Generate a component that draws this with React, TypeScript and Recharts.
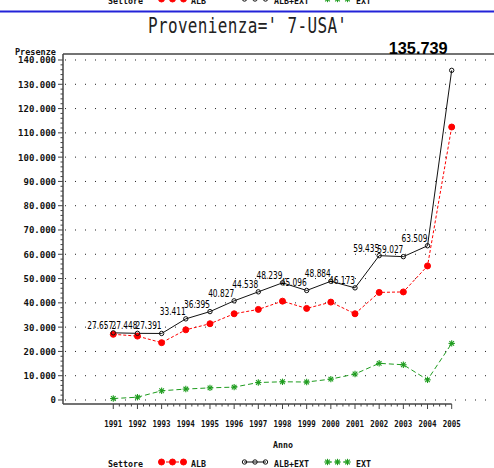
import React from 'react';
import { LineChart, Line, XAxis, YAxis, ReferenceLine, LabelList } from 'recharts';

const anni = [1991, 1992, 1993, 1994, 1995, 1996, 1997, 1998, 1999, 2000, 2001, 2002, 2003, 2004, 2005];
const alb = [27050, 26300, 23600, 28900, 31400, 35500, 37300, 40700, 37700, 40300, 35500, 44300, 44500, 55200, 112400];
const totale = [27657, 27448, 27391, 33411, 36395, 40827, 44538, 48239, 45096, 48884, 46173, 59435, 59027, 63509, 135739];
const ext = [600, 1150, 3800, 4500, 5000, 5300, 7200, 7500, 7400, 8600, 10700, 15100, 14500, 8300, 23300];
const yMajor = [0, 10000, 20000, 30000, 40000, 50000, 60000, 70000, 80000, 90000, 100000, 110000, 120000, 130000, 140000];

const data = anni.map((anno, i) => ({ anno, alb: alb[i], tot: totale[i], ext: ext[i] }));

// minor ticks: 4 per 10.000 on y, 3 per year on x
const yTicks: number[] = [];
for (let v = 0; v <= 140000; v += 2000) yTicks.push(v);
const xTicks: number[] = [];
for (let a = anni[0]; a <= anni[anni.length - 1]; a += 0.25) xTicks.push(a);

const X_DOMAIN: [number, number] = [1988.92, 2006.75];
const Y_DOMAIN: [number, number] = [-1650, 142470];

const RED = '#ff0000';
const GREEN = '#1e9c1e';
const AXIS = '#444';
const MONO = "'DejaVu Sans Mono', monospace";
const NARROW = "'Liberation Sans Narrow', 'DejaVu Sans Condensed', sans-serif";

const fmt = (v: number) => String(v).replace(/\B(?=(\d{3})+(?!\d))/g, '.');

const YTick = (props: any) => {
    const { x, y, payload } = props;
    const major = payload.value % 10000 === 0;
    return (
        <g>
            <line x1={x} x2={x - (major ? 5 : 2.5)} y1={y} y2={y} stroke={AXIS} />
            {major && (
                <text x={x - 7} y={y + 3.5} textAnchor="end" fontFamily={MONO} fontWeight="bold" fontSize={9} fill="#111">
                    {fmt(payload.value)}
                </text>
            )}
        </g>
    );
};

const XTick = (props: any) => {
    const { x, y, payload } = props;
    const major = Number.isInteger(payload.value);
    return (
        <g>
            <line x1={x} x2={x} y1={y} y2={y + (major ? 5 : 2.5)} stroke={AXIS} />
            {major && (
                <text x={x} y={y + 23} textAnchor="middle" fontFamily={MONO} fontWeight="bold" fontSize={9} textLength={18} lengthAdjust="spacingAndGlyphs" fill="#111">
                    {payload.value}
                </text>
            )}
        </g>
    );
};

const RedDot = (props: any) => <circle cx={props.cx} cy={props.cy} r={3} fill={RED} stroke={RED} />;
const OpenDot = (props: any) => <circle cx={props.cx} cy={props.cy} r={2.2} fill="none" stroke="#111" strokeWidth={1} />;
const StarDot = (props: any) => {
    const { cx, cy } = props;
    const r = 3.2;
    const d = r * 0.72;
    return (
        <g stroke={GREEN} strokeWidth={1.1}>
            <line x1={cx - r} x2={cx + r} y1={cy} y2={cy} />
            <line x1={cx} x2={cx} y1={cy - r} y2={cy + r} />
            <line x1={cx - d} x2={cx + d} y1={cy - d} y2={cy + d} />
            <line x1={cx - d} x2={cx + d} y1={cy + d} y2={cy - d} />
        </g>
    );
};

const TotLabel = (props: any) => {
    const { x, y, value, index } = props;
    if (index === totale.length - 1) {
        return (
            <text x={x - 4} y={y - 16} textAnchor="end" fontFamily="'Liberation Sans', Arial, sans-serif" fontWeight="bold" fontSize={17} textLength={59} lengthAdjust="spacingAndGlyphs" fill="#000">
                {fmt(value)}
            </text>
        );
    }
    return (
        <text x={x} y={y - 4} textAnchor="end" fontFamily={NARROW} fontSize={10} textLength={26} lengthAdjust="spacingAndGlyphs" fill="#000">
            {fmt(value)}
        </text>
    );
};

const LegendRow = ({ dy }: { dy: number }) => (
    <g transform={`translate(0, ${dy})`} fontFamily={MONO} fontWeight="bold" fontSize={9} fill="#111">
        <text x={108} y={466.5} textLength={35} lengthAdjust="spacingAndGlyphs">Settore</text>
        <line x1={161} x2={184} y1={462} y2={462} stroke={RED} strokeDasharray="3 2" />
        {[161.5, 172.5, 183.5].map((cx) => <RedDot key={cx} cx={cx} cy={462} />)}
        <text x={191} y={466.5} textLength={15} lengthAdjust="spacingAndGlyphs">ALB</text>
        <line x1={244} x2={266} y1={462} y2={462} stroke="#111" />
        {[244.5, 255, 265.5].map((cx) => <OpenDot key={cx} cx={cx} cy={462} />)}
        <text x={274} y={466.5} textLength={35} lengthAdjust="spacingAndGlyphs">ALB+EXT</text>
        <line x1={327} x2={348} y1={462} y2={462} stroke={GREEN} strokeDasharray="5 3" />
        {[327.5, 337.5, 347.5].map((cx) => <StarDot key={cx} cx={cx} cy={462} />)}
        <text x={356} y={466.5} textLength={15} lengthAdjust="spacingAndGlyphs">EXT</text>
    </g>
);

const App: React.FC = () => {
    return (
        <div style={{ position: 'fixed', left: 0, top: 0, width: 494, height: 468, background: '#fff', overflow: 'hidden' }}>
            <LineChart width={494} height={468} data={data} margin={{ top: 54, right: 0, left: 0, bottom: 0 }}>
                {yMajor.map((v) => (
                    <ReferenceLine key={v} y={v} stroke="#222" strokeWidth={1} strokeDasharray="0 2 1 7" />
                ))}
                <XAxis
                    type="number"
                    dataKey="anno"
                    domain={X_DOMAIN}
                    allowDataOverflow
                    ticks={xTicks}
                    interval={0}
                    axisLine={false}
                    tickLine={false}
                    tickSize={0}
                    tickMargin={0}
                    height={64}
                    tick={<XTick />}
                />
                <YAxis
                    type="number"
                    domain={Y_DOMAIN}
                    allowDataOverflow
                    ticks={yTicks}
                    interval={0}
                    width={63}
                    axisLine={{ stroke: AXIS, strokeWidth: 1.5 }}
                    tickLine={false}
                    tickSize={0}
                    tickMargin={0}
                    tick={<YTick />}
                />
                <ReferenceLine y={Y_DOMAIN[1]} stroke={AXIS} strokeWidth={1.5} />
                <ReferenceLine
                    segment={[{ x: X_DOMAIN[0], y: Y_DOMAIN[0] }, { x: anni[anni.length - 1], y: Y_DOMAIN[0] }]}
                    stroke={AXIS}
                    strokeWidth={1.5}
                />
                <Line dataKey="ext" stroke={GREEN} strokeWidth={1} strokeDasharray="5 3" dot={<StarDot />} isAnimationActive={false} />
                <Line dataKey="alb" stroke={RED} strokeWidth={1} strokeDasharray="3 2" dot={<RedDot />} isAnimationActive={false} />
                <Line dataKey="tot" stroke="#111" strokeWidth={1} dot={<OpenDot />} isAnimationActive={false}>
                    <LabelList dataKey="tot" content={<TotLabel />} />
                </Line>
            </LineChart>
            <svg width={494} height={468} style={{ position: 'absolute', left: 0, top: 0, pointerEvents: 'none' }}>
                <LegendRow dy={-463} />
                <line x1={0} x2={494} y1={11.5} y2={11.5} stroke="#2323d8" strokeWidth={2} />
                {/* thin, tall, widely spaced title like the SAS font */}
                <g transform="translate(148, 33) scale(1, 1.32)">
                    <text x={0} y={0} fontFamily={MONO} fontSize={16} textLength={199} lengthAdjust="spacing" fill="#222">
                        Provenienza=' 7-USA'
                    </text>
                </g>
                <text x={15} y={55} fontFamily={MONO} fontWeight="bold" fontSize={9} textLength={41} lengthAdjust="spacingAndGlyphs" fill="#111">
                    Presenze
                </text>
                <text x={273} y={448} fontFamily={MONO} fontWeight="bold" fontSize={9} textLength={20} lengthAdjust="spacingAndGlyphs" fill="#111">
                    Anno
                </text>
                <LegendRow dy={0} />
            </svg>
        </div>
    );
};

export default App;
